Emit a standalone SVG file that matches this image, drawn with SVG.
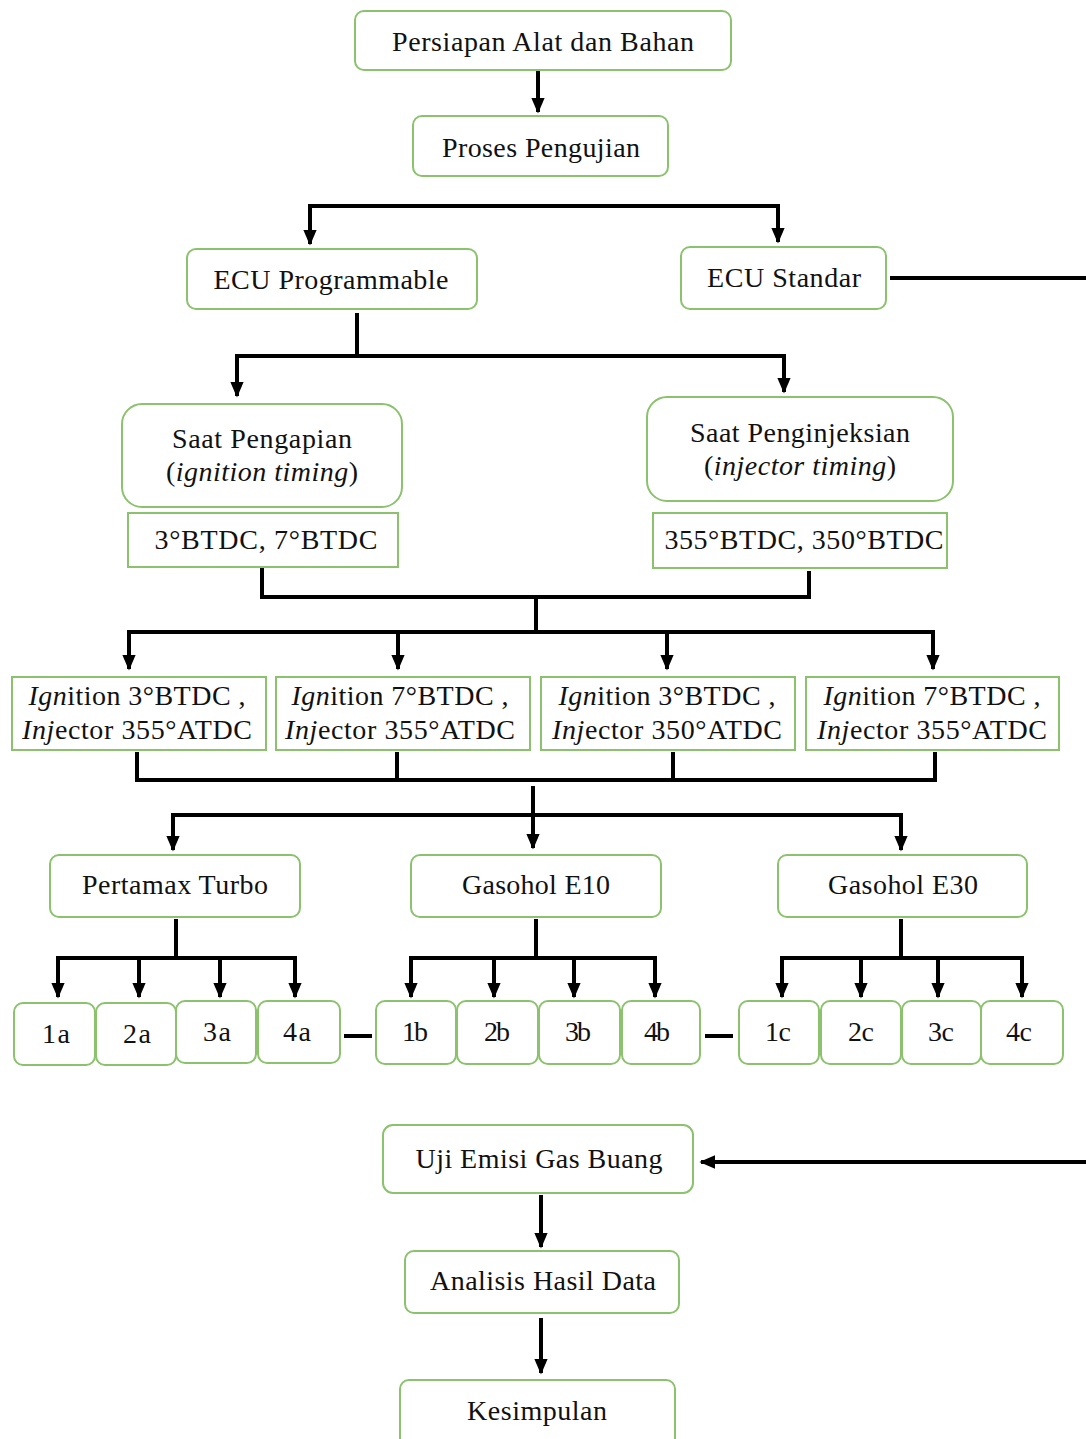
<svg xmlns="http://www.w3.org/2000/svg" width="1086" height="1439" viewBox="0 0 1086 1439">
<style>
.n{fill:#fff;stroke:#8cc26e;stroke-width:2}
text{font-family:"Liberation Serif","Times New Roman",serif;font-size:28px;fill:#111;text-anchor:middle}
.i{font-style:italic}
.c{fill:none;stroke:#000;stroke-width:4}
</style>
<defs>
<marker id="ah" viewBox="0 0 10 10" refX="9" refY="5" markerWidth="4" markerHeight="3.4" orient="auto" markerUnits="strokeWidth" preserveAspectRatio="none">
<path d="M0,0 L10,5 L0,10 z" fill="#000"/>
</marker>
</defs>
<rect width="1086" height="1439" fill="#fff"/>

<g id="connectors">
<path class="c" d="M538,70 V112" marker-end="url(#ah)"/>
<path class="c" d="M310,206 H778 V242" marker-end="url(#ah)"/>
<path class="c" d="M310,204 V244" marker-end="url(#ah)"/>
<path class="c" d="M890,278 H1086"/>
<path class="c" d="M357,313 V356"/>
<path class="c" d="M237,356 H784"/>
<path class="c" d="M237,354 V396" marker-end="url(#ah)"/>
<path class="c" d="M784,354 V392" marker-end="url(#ah)"/>
<path class="c" d="M262,568 V597 H809 V571"/>
<path class="c" d="M536,597 V632"/>
<path class="c" d="M129,632 H933"/>
<path class="c" d="M129,630 V669" marker-end="url(#ah)"/>
<path class="c" d="M398,630 V669" marker-end="url(#ah)"/>
<path class="c" d="M667,630 V669" marker-end="url(#ah)"/>
<path class="c" d="M933,630 V669" marker-end="url(#ah)"/>
<path class="c" d="M137,752 V780 H935 V752"/>
<path class="c" d="M397,752 V780"/>
<path class="c" d="M673,752 V780"/>
<path class="c" d="M533,786 V848" marker-end="url(#ah)"/>
<path class="c" d="M173,815 H901"/>
<path class="c" d="M173,813 V850" marker-end="url(#ah)"/>
<path class="c" d="M901,813 V850" marker-end="url(#ah)"/>
<path class="c" d="M176,919 V958"/>
<path class="c" d="M58,958 H295"/>
<path class="c" d="M58,956 V997" marker-end="url(#ah)"/>
<path class="c" d="M139,956 V997" marker-end="url(#ah)"/>
<path class="c" d="M220,956 V997" marker-end="url(#ah)"/>
<path class="c" d="M295,956 V997" marker-end="url(#ah)"/>
<path class="c" d="M536,919 V958"/>
<path class="c" d="M411,958 H655"/>
<path class="c" d="M411,956 V997" marker-end="url(#ah)"/>
<path class="c" d="M494,956 V997" marker-end="url(#ah)"/>
<path class="c" d="M574,956 V997" marker-end="url(#ah)"/>
<path class="c" d="M655,956 V997" marker-end="url(#ah)"/>
<path class="c" d="M901,919 V958"/>
<path class="c" d="M782,958 H1022"/>
<path class="c" d="M782,956 V997" marker-end="url(#ah)"/>
<path class="c" d="M861,956 V997" marker-end="url(#ah)"/>
<path class="c" d="M938,956 V997" marker-end="url(#ah)"/>
<path class="c" d="M1022,956 V997" marker-end="url(#ah)"/>
<path class="c" d="M344,1036 H372"/>
<path class="c" d="M705,1036 H733"/>
<path class="c" d="M1086,1162 H701" marker-end="url(#ah)"/>
<path class="c" d="M541,1195 V1247" marker-end="url(#ah)"/>
<path class="c" d="M541,1318 V1373" marker-end="url(#ah)"/>
</g>

<g id="n1"><rect class="n" x="355" y="11" width="376" height="59" rx="9"/><text x="543" y="51" textLength="302">Persiapan Alat dan Bahan</text></g>
<g id="n2"><rect class="n" x="413" y="116" width="255" height="60" rx="9"/><text x="541" y="157" textLength="198">Proses Pengujian</text></g>
<g id="n3"><rect class="n" x="187" y="249" width="290" height="60" rx="9"/><text x="331" y="289" textLength="235">ECU Programmable</text></g>
<g id="n4"><rect class="n" x="681" y="247" width="205" height="62" rx="9"/><text x="784" y="287" textLength="154">ECU Standar</text></g>
<g id="n5"><rect class="n" x="122" y="404" width="280" height="103" rx="20"/><text x="262" y="448" textLength="180">Saat Pengapian</text><text x="262" y="481" textLength="192">(<tspan class="i">ignition timing</tspan>)</text></g>
<g id="n6"><rect class="n" x="128" y="513" width="270" height="54"/><text x="266" y="549" textLength="223">3°BTDC, 7°BTDC</text></g>
<g id="n7"><rect class="n" x="647" y="397" width="306" height="104" rx="20"/><text x="800" y="442" textLength="220">Saat Penginjeksian</text><text x="800" y="475" textLength="192">(<tspan class="i">injector timing</tspan>)</text></g>
<g id="n8"><rect class="n" x="653" y="513" width="294" height="55"/><text x="804" y="549" textLength="279">355°BTDC, 350°BTDC</text></g>

<g id="n9"><rect class="n" x="12" y="677" width="254" height="73"/><text x="137" y="705" textLength="217"><tspan class="i">Ign</tspan>ition 3°BTDC ,</text><text x="137" y="739" textLength="230"><tspan class="i">Inj</tspan>ector 355°ATDC</text></g>
<g id="n10"><rect class="n" x="276" y="677" width="254" height="73"/><text x="400" y="705" textLength="217"><tspan class="i">Ign</tspan>ition 7°BTDC ,</text><text x="400" y="739" textLength="230"><tspan class="i">Inj</tspan>ector 355°ATDC</text></g>
<g id="n11"><rect class="n" x="541" y="677" width="254" height="73"/><text x="667" y="705" textLength="217"><tspan class="i">Ign</tspan>ition 3°BTDC ,</text><text x="667" y="739" textLength="230"><tspan class="i">Inj</tspan>ector 350°ATDC</text></g>
<g id="n12"><rect class="n" x="806" y="677" width="253" height="73"/><text x="932" y="705" textLength="217"><tspan class="i">Ign</tspan>ition 7°BTDC ,</text><text x="932" y="739" textLength="230"><tspan class="i">Inj</tspan>ector 355°ATDC</text></g>

<g id="n13"><rect class="n" x="50" y="855" width="250" height="62" rx="9"/><text x="175" y="894" textLength="186">Pertamax Turbo</text></g>
<g id="n14"><rect class="n" x="411" y="855" width="250" height="62" rx="9"/><text x="536" y="894" textLength="148">Gasohol E10</text></g>
<g id="n15"><rect class="n" x="778" y="855" width="249" height="62" rx="9"/><text x="903" y="894" textLength="150">Gasohol E30</text></g>

<g id="n1a"><rect class="n" x="14" y="1003" width="81" height="62" rx="9"/><text x="56" y="1043" textLength="28">1a</text></g>
<g id="n2a"><rect class="n" x="96" y="1003" width="80" height="62" rx="9"/><text x="137" y="1043" textLength="28">2a</text></g>
<g id="n3a"><rect class="n" x="176" y="1001" width="80" height="62" rx="9"/><text x="217" y="1041" textLength="28">3a</text></g>
<g id="n4a"><rect class="n" x="258" y="1001" width="82" height="62" rx="9"/><text x="297" y="1041" textLength="28">4a</text></g>
<g id="n1b"><rect class="n" x="376" y="1001" width="80" height="63" rx="9"/><text x="415" y="1041" textLength="26">1b</text></g>
<g id="n2b"><rect class="n" x="457" y="1001" width="81" height="63" rx="9"/><text x="497" y="1041" textLength="26">2b</text></g>
<g id="n3b"><rect class="n" x="539" y="1001" width="81" height="63" rx="9"/><text x="578" y="1041" textLength="26">3b</text></g>
<g id="n4b"><rect class="n" x="622" y="1001" width="78" height="63" rx="9"/><text x="657" y="1041" textLength="26">4b</text></g>
<g id="n1c"><rect class="n" x="739" y="1001" width="80" height="63" rx="9"/><text x="778" y="1041" textLength="26">1c</text></g>
<g id="n2c"><rect class="n" x="821" y="1001" width="80" height="63" rx="9"/><text x="861" y="1041" textLength="26">2c</text></g>
<g id="n3c"><rect class="n" x="902" y="1001" width="79" height="63" rx="9"/><text x="941" y="1041" textLength="26">3c</text></g>
<g id="n4c"><rect class="n" x="981" y="1001" width="82" height="63" rx="9"/><text x="1019" y="1041" textLength="26">4c</text></g>

<g id="n16"><rect class="n" x="383" y="1125" width="310" height="68" rx="10"/><text x="539" y="1168" textLength="247">Uji Emisi Gas Buang</text></g>
<g id="n17"><rect class="n" x="405" y="1251" width="274" height="62" rx="9"/><text x="543" y="1290" textLength="226">Analisis Hasil Data</text></g>
<g id="n18"><rect class="n" x="400" y="1380" width="275" height="70" rx="9"/><text x="537" y="1420" textLength="140">Kesimpulan</text></g>
</svg>
